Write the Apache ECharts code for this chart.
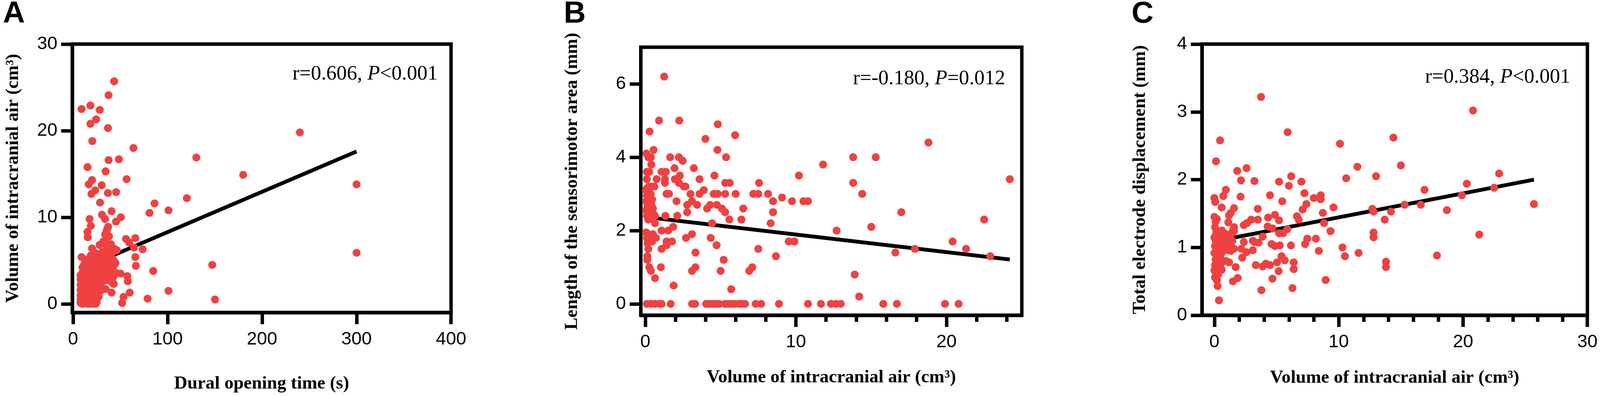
<!DOCTYPE html>
<html>
<head>
<meta charset="utf-8">
<script src="https://cdn.jsdelivr.net/npm/echarts@6/dist/echarts.min.js"></script>
<style>html,body{margin:0;padding:0;background:#fff;overflow:hidden}#c{width:100vw;height:100vh}</style>
</head>
<body>
<div id="c"></div>
<script>
// ---------- Panel A: Dural opening time (s) vs Volume of intracranial air (cm3)
const panelA_points = [
  [43.5,25.7],[37.6,24.1],[9.0,22.5],[18.4,22.9],[28.3,22.4],[24.4,21.3],[18.4,20.8],[36.9,20.3],
  [20.4,18.8],[63.9,18.0],[37.6,16.6],[48.5,16.7],[15.3,15.8],[34.5,15.3],[56.7,14.4],[20.1,14.3],
  [16.6,13.8],[30.3,13.7],[23.4,13.1],[19.5,12.7],[36.9,12.8],[45.6,12.9],[120.4,12.2],
  [28.6,11.7],[86.2,11.6],[40.8,10.7],[80.9,10.5],[101,10.8],[30.6,10.3],[33.9,9.8],[50.6,10.0],
  [45.5,9.5],[17.5,9.8],[18.8,9.0],[15.3,8.3],[37.1,8.9],[35.2,8.3],[15.6,7.7],[56.0,7.5],[59.3,7.1],
  [65.9,7.6],[34.5,7.4],[35.2,7.0],[64.6,6.5],[73.7,6.3],[20.1,6.4],[37.8,6.4],[43.1,6.4],[46.3,6.2],
  [65.9,5.4],[9.0,5.4],[66.5,4.4],[84.8,3.8],[101,1.5],[78.9,0.6],[52.0,0.1],[53.4,0.8],[60.0,1.3],
  [40.8,1.3],[29.9,2.0],[34.5,1.7],[43.0,2.3],[57.4,3.2],[58.0,2.6],[50.2,3.5],[36.5,2.9],[41.7,2.9],
  [240,19.8],[130.5,16.9],[180,14.9],[300,13.8],[300,5.9],[147.3,4.5],[150.2,0.5],
  [8,0.1],[8,0.5],[8,1.0],[8,1.6],[8,2.2],[8,2.8],[8,3.3],
  [9,0.3],[9,0.8],[9,1.3],[9,1.9],[9,2.5],[9,3.0],
  [10,0.0],[10,0.6],[10,1.1],[10,1.7],[10,2.3],[10,3.6],[10,4.2],
  [11,0.2],[11,0.9],[11,1.4],[11,2.0],[11,2.7],[11,3.2],
  [12,0.4],[12,1.2],[12,1.8],[12,2.4],[12,3.8],[12,4.6],
  [13,0.1],[13,0.7],[13,1.5],[13,2.1],[13,3.0],[13,4.0],
  [14,0.3],[14,1.0],[14,2.6],[14,3.4],[14,5.0],
  [15,0.0],[15,0.8],[15,1.6],[15,2.2],[15,4.4],
  [16,0.5],[16,1.3],[16,2.9],[16,3.6],[16,5.2],
  [17,0.2],[17,1.1],[17,1.9],[17,2.5],[17,4.1],
  [18,0.0],[18,0.9],[18,1.7],[18,3.2],[18,4.8],
  [19,0.4],[19,1.4],[19,2.3],[19,3.9],[19,5.6],
  [20,0.1],[20,1.0],[20,2.0],[20,2.8],[20,4.5],
  [21,0.6],[21,1.8],[21,3.5],[21,5.1],
  [22,0.0],[22,1.2],[22,2.6],[22,4.2],
  [23,0.3],[23,1.5],[23,3.0],[23,4.7],[23,5.9],
  [24,0.0],[24,0.9],[24,2.2],[24,3.7],
  [25,0.2],[25,1.6],[25,2.9],[25,4.4],[25,5.5],
  [27,0.8],[27,2.3],[27,3.4],[27,5.0],
  [29,1.5],[29,3.1],[29,4.2],[29,5.8],
  [31,2.6],[31,3.8],[31,4.8],[31,6.0],
  [33,3.3],[33,4.5],[33,5.3],
  [35,2.7],[35,4.1],[35,5.7],
  [37,3.0],[37,4.9],[37,5.9],
  [39,3.6],[39,4.6],[39,5.4],
  [41,2.5],[41,3.9],[41,5.2],
  [43,3.2],[43,4.4],[43,5.0],
  [45,3.6],[45,4.7],
  [28,6.8],[32,7.2],[34,8.0],[36,8.6],[38,7.8],[36,6.6],[40,6.9],[42,6.0]
];
const panelA_fit = [[8,4.0],[300,17.6]];
const panelA_xTicks = [0,100,200,300,400];
const panelA_yTicks = [0,10,20,30];

// ---------- Panel B: Volume of intracranial air vs Length of the sensorimotor area (mm)
const panelB_points = [
  [1.25,6.2],[0.91,5.0],[2.25,5.0],[0.28,4.7],[4.81,4.9],[5.96,4.6],[3.99,4.5],[0.55,4.2],[4.79,4.2],
  [0.07,4.1],[0.2,4.0],[0.37,4.0],[1.65,4.0],[2.23,4.0],[2.48,3.9],[5.36,4.0],[0.4,3.8],[3.22,3.7],
  [1.94,3.7],[0.1,3.6],[0.26,3.6],[1.08,3.6],[1.36,3.6],[4.59,3.5],[2.29,3.5],[10.2,3.5],[11.8,3.8],
  [0.1,3.4],[0.75,3.4],[1.3,3.4],[1.96,3.4],[3.6,3.4],[1.3,3.3],[2.23,3.3],[2.56,3.2],[5.3,3.3],
  [5.6,3.3],[7.55,3.3],[0.42,3.2],[2.67,3.2],[1.41,3.0],[1.57,3.0],[3.0,3.0],[3.6,3.0],[3.88,3.1],
  [4.54,3.0],[4.81,3.0],[5.3,3.0],[6.0,3.0],[7.17,3.0],[7.5,3.0],[8.15,3.0],[9.08,2.9],[2.07,2.8],
  [3.1,2.8],[3.44,2.7],[2.78,2.7],[2.78,2.5],[4.1,2.6],[4.3,2.7],[4.75,2.7],[5.08,2.6],[5.3,2.5],
  [6.5,2.6],[8.48,2.8],[8.48,2.5],[9.74,2.8],[10.5,2.8],[10.8,2.8],[5.58,2.3],[6.38,2.3],[1.33,2.4],
  [2.12,2.4],[0.64,2.4],[0.64,2.2],[4.43,2.2],[8.32,2.2],[12.7,2.0],[1.08,2.0],[1.52,2.0],[1.85,2.1],
  [0.7,1.8],[2.7,1.8],[3.1,1.9],[4.34,1.8],[1.41,1.7],[1.77,1.7],[9.52,1.7],[9.9,1.7],[4.73,1.6],
  [1.08,1.5],[1.41,1.6],[0.2,1.5],[7.5,1.5],[3.33,1.4],[8.67,1.3],[0.13,1.3],[0.13,1.2],[5.2,1.2],
  [0.26,1.0],[0.37,0.9],[1.03,1.0],[3.1,0.9],[3.33,1.0],[5.0,0.9],[6.9,0.9],[7.1,1.0],[0.64,0.7],
  [1.88,0.5],[5.7,0.4],
  [0.1,0],[0.37,0],[0.64,0],[0.94,0],[1.08,0],[1.68,0],[3.1,0],[3.3,0],[4.04,0],[4.26,0],[4.46,0],
  [4.7,0],[4.92,0],[5.3,0],[5.52,0],[5.74,0],[5.96,0],[6.23,0],[6.43,0],[6.62,0],[7.33,0],[7.69,0],
  [8.87,0],[10.8,0],[11.66,0],[12.32,0],[12.65,0],[12.98,0],[15.8,0],[16.7,0],[19.9,0],[20.8,0],
  [13.8,4.0],[15.3,4.0],[13.8,3.3],[14.4,3.0],[18.8,4.4],[17.0,2.5],[15.0,2.1],[22.5,2.3],[20.4,1.7],
  [21.3,1.5],[22.9,1.3],[17.9,1.5],[16.6,1.4],[13.9,0.8],[14.2,0.2],[24.2,3.4],
  [0.05,3.1],[0.2,3.05],[0.35,3.0],[0.1,2.95],[0.3,2.9],[0.45,2.85],[0.05,2.8],[0.25,2.75],[0.4,2.7],
  [0.15,2.65],[0.5,2.6],[0.05,2.55],[0.3,2.5],[0.1,2.4],[0.4,2.35],[0.2,2.3],[0.55,2.45],[0.05,1.95],
  [0.2,1.9],[0.35,1.85],[0.1,1.8],[0.3,1.75],[0.45,1.7],[0.15,1.65],[0.5,1.9],[0.6,3.2],[0.25,3.2],[0.1,3.15]
];
const panelB_fit = [[0,2.37],[24.2,1.21]];
const panelB_xTicks = [0,10,20];
const panelB_xMinorTicks = [2,4,6,8,12,14,16,18,22,24];
const panelB_yTicks = [0,2,4,6];

// ---------- Panel C: Volume of intracranial air vs Total electrode displacement (mm)
const panelC_points = [
  [3.75,3.22],[5.89,2.70],[0.46,2.58],[10.1,2.53],[0.13,2.27],[2.59,2.17],[1.84,2.13],[11.5,2.19],
  [6.18,2.05],[2.14,1.99],[3.22,1.98],[5.2,1.97],[7.0,1.97],[10.6,2.02],[5.99,1.91],[0.92,1.85],
  [0.72,1.76],[0.0,1.73],[0.07,1.67],[2.1,1.75],[4.47,1.77],[7.24,1.80],[8.0,1.73],[8.55,1.77],
  [8.55,1.71],[5.46,1.68],[0.59,1.59],[1.58,1.58],[1.32,1.51],[9.58,1.59],[7.4,1.64],[7.1,1.56],
  [3.49,1.57],[8.72,1.51],[4.87,1.48],[5.2,1.40],[6.64,1.46],[6.78,1.41],[2.96,1.41],[2.63,1.36],
  [2.37,1.33],[3.49,1.41],[4.32,1.44],[1.12,1.37],[1.18,1.47],[8.82,1.36],[1.58,1.30],[1.58,1.24],
  [4.28,1.31],[4.67,1.28],[5.86,1.27],[5.53,1.21],[5.2,1.21],[9.34,1.24],[3.88,1.16],[7.47,1.13],
  [7.3,1.05],[8.16,1.13],[2.37,1.08],[2.17,0.98],[3.09,1.10],[3.22,1.08],[3.55,1.07],[4.6,1.05],
  [4.87,1.02],[5.26,1.03],[6.16,1.03],[10.3,1.0],[8.4,0.95],[3.09,0.96],[2.57,0.93],[2.24,0.85],
  [1.32,0.95],[1.58,0.98],[10.5,0.87],[11.6,0.92],[5.4,0.87],[5.66,0.81],[5.04,0.78],[6.38,0.78],
  [6.38,0.68],[0.92,0.80],[1.18,0.78],[3.33,0.74],[3.88,0.72],[4.14,0.76],[4.47,0.74],[1.71,0.71],
  [0.59,0.67],[5.17,0.65],[1.88,0.55],[1.49,0.50],[4.67,0.54],[8.95,0.52],[0.26,0.43],[3.78,0.37],
  [6.28,0.40],[0.37,0.22],
  [20.8,3.02],[14.4,2.62],[15.0,2.21],[13.0,2.05],[22.9,2.09],[20.3,1.94],[22.5,1.88],[16.9,1.85],
  [19.9,1.77],[15.3,1.63],[16.6,1.63],[12.7,1.57],[12.8,1.53],[14.2,1.53],[18.7,1.55],[13.7,1.41],
  [12.8,1.22],[12.8,1.15],[21.3,1.19],[25.7,1.64],[17.9,0.88],[13.8,0.79],[13.8,0.71],
  [0.0,1.45],[0.1,1.38],[0.2,1.42],[0.05,1.3],[0.15,1.22],[0.3,1.18],[0.45,1.2],[0.0,1.15],[0.1,1.1],
  [0.25,1.08],[0.4,1.12],[0.55,1.1],[0.7,1.08],[0.85,1.1],[1.0,1.06],[1.15,1.08],[1.3,1.05],[1.45,1.1],
  [0.05,1.02],[0.2,0.98],[0.35,1.0],[0.5,0.97],[0.65,1.02],[0.8,0.98],[0.95,1.0],[1.1,0.96],[1.25,0.99],
  [0.0,0.92],[0.15,0.88],[0.3,0.9],[0.45,0.86],[0.6,0.92],[0.1,0.82],[0.25,0.78],[0.4,0.8],[0.05,0.74],
  [0.2,0.7],[0.35,0.72],[0.0,0.66],[0.15,0.62],[0.3,0.6],[0.05,0.56],[0.2,0.52],[0.5,0.75],[1.35,1.2],
  [1.5,1.25],[0.9,1.2],[0.6,1.25],[1.2,1.15]
];
const panelC_fit = [[0,1.09],[25.7,2.0]];
const panelC_xTicks = [0,10,20,30];
const panelC_xMinorTicks = [2,4,6,8,12,14,16,18,22,24,26,28];
const panelC_yTicks = [0,1,2,3,4];

// ---------- Text
const panelLetters = ['A','B','C'];
const xTitles = ['Dural opening time (s)','Volume of intracranial air (cm³)','Volume of intracranial air (cm³)'];
const yTitles = ['Volume of intracranial air (cm³)','Length of the sensorimotor area (mm)','Total electrode displacement (mm)'];
const statR = ['r=0.606, ','r=-0.180, ','r=0.384, '];
const statP = ['<0.001','=0.012','<0.001'];

// ---------- Styling / layout (designed on a 4317 x 1015 canvas, scaled to the real viewport)
const el = document.getElementById('c');
const W = el.clientWidth || window.innerWidth || 4317;
const H = el.clientHeight || window.innerHeight || 1015;
const sx = W / 4317, sy = H / 1015, sf = Math.sqrt(sx * sy);
const X = v => v * sx, Y = v => v * sy, F = v => v * sf;

const SANS = 'Liberation Sans, Arial, sans-serif';
const SERIF = 'Liberation Serif, Times New Roman, serif';
const RED = '#EF4141';
const LW = F(9);
const gridBoxes = [
  [195, 113, 1022, 688],
  [1729, 121, 1028, 687],
  [3243, 113, 1040, 695]
];
const xRanges = [[-0.8,400],[-0.3,25],[-1,30]];
const yRanges = [[-1,30],[-0.31,7],[0,4]];
const xNameGaps = [159,136,137];
const yNameGaps = [135,160,142];

const xAxes = [], yAxes = [];
const xMajor = [panelA_xTicks, panelB_xTicks, panelC_xTicks];
const xMinor = [null, panelB_xMinorTicks, panelC_xMinorTicks];
const yMajor = [panelA_yTicks, panelB_yTicks, panelC_yTicks];
for (let i=0;i<3;i++){
  xAxes.push({
    gridIndex:i, type:'value', position:'bottom', min:xRanges[i][0], max:xRanges[i][1],
    axisLine:{show:true, onZero:false, lineStyle:{color:'#000', width:LW}},
    axisTick:{show:true, inside:false, length:Y(30), customValues:xMajor[i], lineStyle:{color:'#000', width:LW}},
    axisLabel:{show:true, customValues:xMajor[i], margin:Y(46), fontSize:F(48), fontFamily:SANS, color:'#000'},
    splitLine:{show:false},
    name:xTitles[i], nameLocation:'middle', nameGap:Y(xNameGaps[i]), nameMoveOverlap:false,
    nameTextStyle:{fontFamily:SERIF, fontWeight:'bold', fontSize:F(48), color:'#000'}
  });
  yAxes.push({
    gridIndex:i, type:'value', position:'left', min:yRanges[i][0], max:yRanges[i][1],
    axisLine:{show:true, onZero:false, lineStyle:{color:'#000', width:LW}},
    axisTick:{show:true, inside:false, length:X(30), customValues:yMajor[i], lineStyle:{color:'#000', width:LW}},
    axisLabel:{show:true, customValues:yMajor[i], margin:X(40), fontSize:F(48), fontFamily:SANS, color:'#000'},
    splitLine:{show:false},
    name:yTitles[i], nameLocation:'middle', nameGap:X(yNameGaps[i]), nameRotate:90, nameMoveOverlap:false,
    nameTextStyle:{fontFamily:SERIF, fontWeight:'bold', fontSize:F(48), color:'#000'}
  });
}
for (let i=1;i<3;i++){
  xAxes.push({
    gridIndex:i, type:'value', position:'bottom', min:xRanges[i][0], max:xRanges[i][1],
    axisLine:{show:false, onZero:false}, axisLabel:{show:false}, splitLine:{show:false},
    axisTick:{show:true, inside:false, length:Y(17), customValues:xMinor[i], lineStyle:{color:'#000', width:LW}}
  });
}

const pts = [panelA_points, panelB_points, panelC_points];
const fits = [panelA_fit, panelB_fit, panelC_fit];
const series = [];
for (let i=0;i<3;i++){
  series.push({type:'line', xAxisIndex:i, yAxisIndex:i, data:fits[i], symbol:'none', silent:true,
    lineStyle:{color:'#000', width:F(10)}, z:2, animation:false});
  series.push({type:'scatter', xAxisIndex:i, yAxisIndex:i, data:pts[i], symbol:'circle', symbolSize:F(21),
    itemStyle:{color:RED, opacity:1}, z:3, animation:false});
}

const letterPos = [[8,-2],[1521,-2],[3053,-2]];
const statPos = [[1181,190],[2712,202],[4237,198]];
const graphics = [];
for (let i=0;i<3;i++){
  graphics.push({type:'text', x:X(letterPos[i][0]), y:Y(letterPos[i][1]), z:10,
    style:{text:panelLetters[i], font:'bold ' + F(80) + 'px ' + SANS, fill:'#000', verticalAlign:'top', align:'left'}});
  graphics.push({type:'text', x:X(statPos[i][0]), y:Y(statPos[i][1]), z:10,
    style:{text:'{n|' + statR[i] + '}{i|P}{n|' + statP[i] + '}', align:'right', verticalAlign:'middle',
      rich:{n:{fontFamily:SERIF, fontSize:F(54), fill:'#000'}, i:{fontFamily:SERIF, fontStyle:'italic', fontSize:F(54), fill:'#000'}}}});
}

const chart = echarts.init(el, null, {renderer:'canvas', width:W, height:H});
chart.setOption({
  animation:false,
  backgroundColor:'#fff',
  grid:gridBoxes.map(g => ({show:true, borderColor:'#000', borderWidth:LW, backgroundColor:'transparent',
    containLabel:false, outerBoundsMode:'none', left:X(g[0]), top:Y(g[1]), width:X(g[2]), height:Y(g[3])})),
  xAxis:xAxes,
  yAxis:yAxes,
  series:series,
  graphic:graphics
});
</script>
</body>
</html>
